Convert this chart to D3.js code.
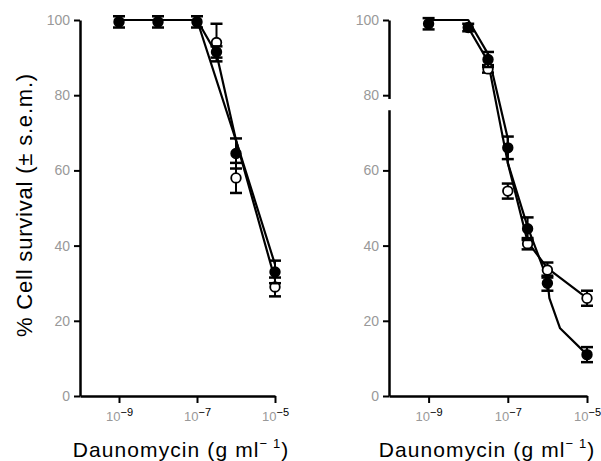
<!DOCTYPE html>
<html>
<head>
<meta charset="utf-8">
<script src="https://cdn.jsdelivr.net/npm/d3@7"></script>
<style>
  body { margin: 0; background: #fff; }
  text { font-family: "Liberation Sans", Arial, sans-serif; }
</style>
</head>
<body>
<div id="chart"></div>
<script>
// Page size
var svgWidth = 601;
var svgHeight = 461;

// Tick values (log10 of g/ml) and y ticks
var xTickExps = [-9, -7, -5];
var yTicks = [0, 20, 40, 60, 80, 100];

// Left panel: measured points (exponent, % survival, s.e.m.)
var leftFilledExp = [-9, -8, -7, -6.5, -6, -5];
var leftFilledVal = [99.5, 99.5, 99.5, 91.5, 64.5, 33];
var leftFilledErr = [1.5, 1.5, 1.5, 1.5, 4, 3];
var leftOpenExp = [-6.5, -6, -5];
var leftOpenVal = [94, 58, 29];
var leftOpenErr = [5, 4, 2.5];
// Left panel: drawn curves
var leftFilledCurveExp = [-9, -8, -7, -6.5, -6, -5];
var leftFilledCurveVal = [100, 100, 100, 91, 68, 31];
var leftOpenCurveExp = [-7, -6, -5];
var leftOpenCurveVal = [100, 68, 35];

// Right panel: measured points
var rightFilledExp = [-9, -8, -7.5, -7, -6.5, -6, -5];
var rightFilledVal = [99, 98, 89.5, 66, 44.5, 30, 11];
var rightFilledErr = [1.5, 1, 2, 3, 3, 2, 2];
var rightOpenExp = [-7.5, -7, -6.5, -6, -5];
var rightOpenVal = [87, 54.5, 40.5, 33.5, 26];
var rightOpenErr = [1, 2, 1.5, 2, 2];
// Right panel: drawn curves
var rightFilledCurveExp = [-9, -8, -7.5, -7, -7, -6.5, -6, -5.95, -5.68, -5];
var rightFilledCurveVal = [100, 100, 91, 68.5, 62, 45, 31, 26, 18, 11];
var rightOpenCurveExp = [-8, -7.5, -7, -6.5, -6, -5];
var rightOpenCurveVal = [98, 89, 62, 41, 34, 26];

var svg = d3.select("#chart")
  .append("svg")
    .attr("width", svgWidth)
    .attr("height", svgHeight);

var yScale = d3.scaleLinear()
  .domain([0, 100])
  .range([396, 20]);

function zip(xs, ys, es) {
  return xs.map(function(x, i) {
    return { x: Math.pow(10, x), y: ys[i], e: es ? es[i] : 0 };
  });
}

function drawPanel(cfg) {
  var xScale = d3.scaleLog()
    .domain([1e-10, 1e-5])
    .range([cfg.x0, cfg.x1]);

  var g = svg.append("g");

  // curves
  var line = d3.line()
    .x(d => xScale(d.x))
    .y(d => yScale(d.y));

  cfg.curves.forEach(function(c) {
    g.append("path")
      .datum(c)
      .attr("d", line)
      .attr("fill", "none")
      .attr("stroke", "#000")
      .attr("stroke-width", 2.2)
      .attr("stroke-linejoin", "round");
  });

  // error bars + markers
  function points(data, filled) {
    var pg = g.append("g");
    data.forEach(function(d) {
      var cx = xScale(d.x);
      var yt = yScale(d.y + d.e), yb = yScale(d.y - d.e);
      pg.append("line")
        .attr("x1", cx).attr("x2", cx).attr("y1", yt).attr("y2", yb)
        .attr("stroke", "#000").attr("stroke-width", 2);
      [yt, yb].forEach(function(yy) {
        pg.append("line")
          .attr("x1", cx - 6).attr("x2", cx + 6).attr("y1", yy).attr("y2", yy)
          .attr("stroke", "#000").attr("stroke-width", 2.5);
      });
      pg.append("circle")
        .attr("cx", cx).attr("cy", yScale(d.y)).attr("r", 4.8)
        .attr("fill", filled ? "#000" : "#fff")
        .attr("stroke", "#000").attr("stroke-width", 1.8);
    });
  }
  points(cfg.open, false);
  points(cfg.filled, true);

  // y axis
  var yAxis = g.append("g")
    .attr("transform", `translate(${cfg.x0}, 0)`)
    .call(d3.axisLeft(yScale).tickValues(yTicks).tickSize(6).tickSizeOuter(0));
  yAxis.select(".domain").attr("stroke-width", 2.5);
  yAxis.selectAll(".tick line").attr("stroke-width", 2);
  yAxis.selectAll(".tick text")
    .attr("x", -10)
    .style("font-size", "14px")
    .attr("fill", "#999");
  if (cfg.breakAxis) {
    g.append("rect")
      .attr("x", cfg.x0 - 3).attr("y", yScale(79))
      .attr("width", 6).attr("height", yScale(76) - yScale(79))
      .attr("fill", "#fff");
  }

  // x axis
  var xAxis = g.append("g")
    .attr("transform", `translate(0, 396)`)
    .call(d3.axisBottom(xScale)
      .tickValues(xTickExps.map(e => Math.pow(10, e)))
      .tickFormat("")
      .tickSize(7)
      .tickSizeOuter(0));
  xAxis.select(".domain").attr("stroke-width", 2.5);
  xAxis.selectAll(".tick line").attr("stroke-width", 2);
  xAxis.selectAll(".tick").each(function(d) {
    var t = d3.select(this).append("text")
      .attr("y", 25)
      .attr("text-anchor", "middle")
      .style("font-size", "13px");
    t.append("tspan").attr("fill", "#999").text("10");
    t.append("tspan")
      .attr("fill", "#000")
      .attr("dy", -5)
      .style("font-size", "11px")
      .text("\u2212" + (-Math.round(Math.log10(d))));
  });

  // x title
  var xt = g.append("text")
    .attr("x", cfg.titleX)
    .attr("y", 457)
    .attr("text-anchor", "middle")
    .style("font-size", "21px")
    .style("letter-spacing", "1.1px")
    .attr("fill", "#000");
  xt.append("tspan").text("Daunomycin (g ml");
  xt.append("tspan").attr("dy", -9).style("font-size", "13px").text("\u2212 1");
  xt.append("tspan").attr("dy", 9).text(")");
}

drawPanel({
  x0: 80, x1: 275, titleX: 181,
  filled: zip(leftFilledExp, leftFilledVal, leftFilledErr),
  open: zip(leftOpenExp, leftOpenVal, leftOpenErr),
  curves: [zip(leftFilledCurveExp, leftFilledCurveVal), zip(leftOpenCurveExp, leftOpenCurveVal)],
  breakAxis: false
});

drawPanel({
  x0: 389, x1: 587, titleX: 487,
  filled: zip(rightFilledExp, rightFilledVal, rightFilledErr),
  open: zip(rightOpenExp, rightOpenVal, rightOpenErr),
  curves: [zip(rightFilledCurveExp, rightFilledCurveVal), zip(rightOpenCurveExp, rightOpenCurveVal)],
  breakAxis: true
});

// y title
svg.append("text")
  .attr("transform", "translate(32, 205) rotate(-90)")
  .attr("text-anchor", "middle")
  .style("font-size", "22px")
  .style("letter-spacing", "0.8px")
  .text("% Cell survival (\u00b1 s.e.m.)");
</script>
</body>
</html>
